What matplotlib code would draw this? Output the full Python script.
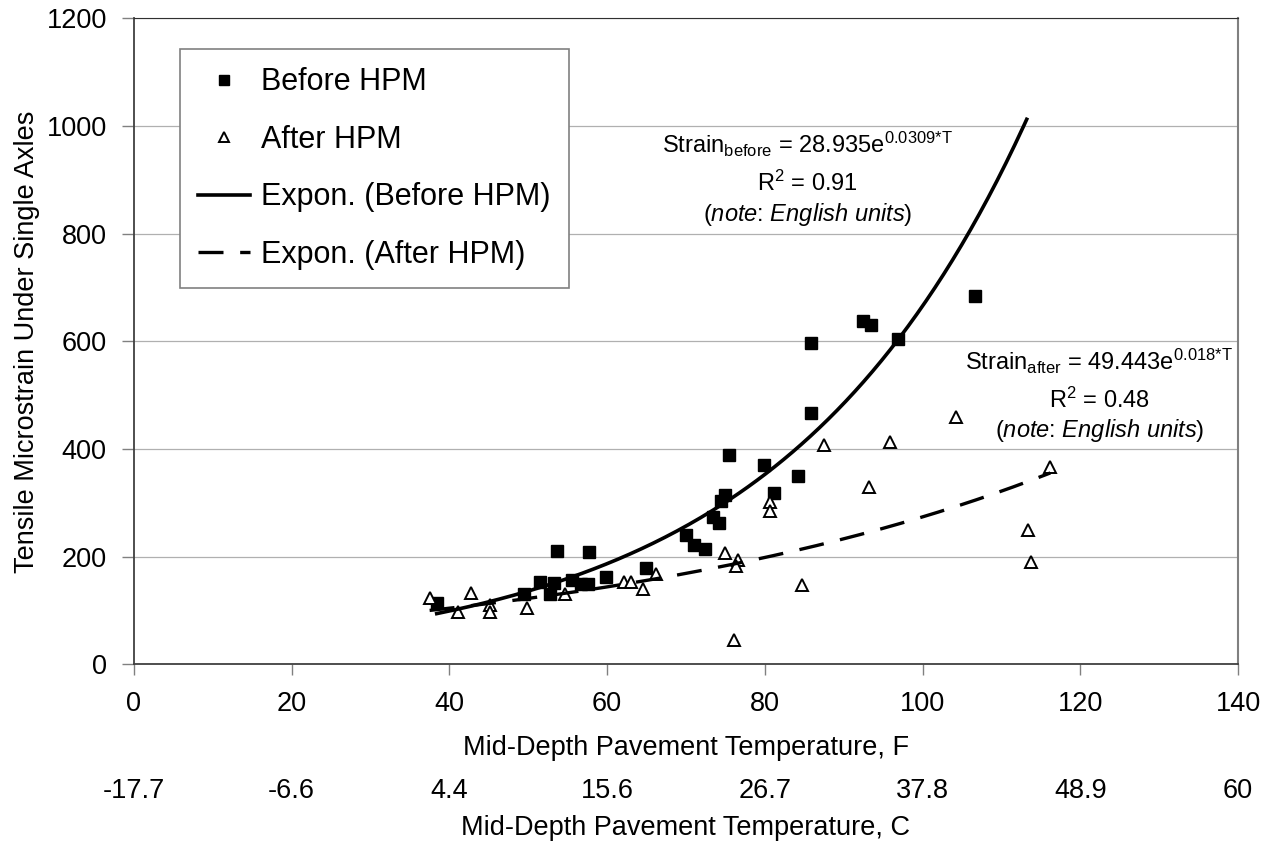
import numpy as np
import matplotlib.pyplot as plt

plt.rcParams['font.family'] = ['Liberation Sans', 'DejaVu Sans']
plt.rcParams['mathtext.fontset'] = 'custom'
plt.rcParams['mathtext.rm'] = 'Liberation Sans'
plt.rcParams['mathtext.it'] = 'Liberation Sans:italic'

# before HPM (squares)
before_T = [38.4, 49.5, 51.5, 52.8, 53.3, 53.7, 55.6, 56.7, 57.6, 57.7, 59.8, 64.9,
            70.0, 71.0, 72.4, 73.4, 74.2, 74.5, 74.9, 75.5, 79.9, 81.1, 84.2, 85.8,
            85.9, 92.5, 93.4, 96.9, 106.6]
before_strain = [114, 130, 152, 130, 151, 211, 157, 150, 150, 208, 163, 179,
                 240, 221, 215, 274, 262, 304, 315, 388, 371, 318, 350, 467,
                 597, 638, 630, 604, 685]

# after HPM (triangles)
after_T = [37.5, 41.1, 42.8, 45.1, 45.1, 49.8, 54.7, 62.2, 63.0, 64.5, 66.2, 74.9,
           76.6, 76.4, 76.1, 80.6, 80.6, 84.7, 87.5, 93.2, 95.9, 104.2, 113.3, 113.8, 116.2]
after_strain = [124, 97, 132, 110, 97, 105, 131, 153, 153, 139, 168, 206,
                193, 182, 45, 301, 284, 147, 407, 329, 413, 459, 250, 190, 367]

before_trend_end = 113.2   # excel trendline drawn a bit past last point

f_ticks = [0, 20, 40, 60, 80, 100, 120, 140]
c_labels = ['-17.7', '-6.6', '4.4', '15.6', '26.7', '37.8', '48.9', '60']


def expfit(x, y):
    # same as excel's exponential trendline: least squares on ln(y)
    k, lnA = np.polyfit(np.array(x), np.log(np.array(y)), 1)
    return np.exp(lnA), k


fig = plt.figure(figsize=(12.76, 8.47), dpi=100)
ax = fig.add_axes([0.1049, 0.2157, 0.8654, 0.7627])

A1, k1 = expfit(before_T, before_strain)
A2, k2 = expfit(after_T, after_strain)
t1 = np.linspace(min(before_T), before_trend_end, 200)
t2 = np.linspace(min(after_T), max(after_T), 200)

ax.plot(before_T, before_strain, 's', color='black', markersize=8.8, label='Before HPM', zorder=3)
ax.plot(after_T, after_strain, '^', mfc='white', mec='black', mew=1.4, markersize=8.5,
        label='After HPM', zorder=3)
ax.plot(t1, A1 * np.exp(k1 * t1), '-', color='black', lw=2.6, label='Expon. (Before HPM)', zorder=4)
ax.plot(t2, A2 * np.exp(k2 * t2), color='black', lw=2.4, linestyle=(0, (7.5, 5)),
        label='Expon. (After HPM)', zorder=4)

ax.set_xlim(0, 140)
ax.set_ylim(0, 1200)
ax.set_xticks(f_ticks)
ax.set_yticks(range(0, 1201, 200))
ax.yaxis.grid(True, color='#b0b0b0', lw=0.9)
ax.set_axisbelow(True)
for s in ['left', 'bottom']:
    ax.spines[s].set_color('#404040')
    ax.spines[s].set_linewidth(1.3)
ax.spines['top'].set_color('#303030')
ax.spines['right'].set_color('#808080')
ax.spines['right'].set_linewidth(1.5)
ax.tick_params(axis='x', direction='out', length=8, width=1, color='#808080', labelsize=19.5, pad=11)
ax.tick_params(axis='y', direction='out', length=9, width=1, color='#808080', labelsize=19.5, pad=10.5)

# celsius scale underneath
sec = ax.secondary_xaxis(-0.176)
sec.set_xticks(f_ticks, labels=c_labels)
sec.spines['bottom'].set_visible(False)
sec.tick_params(length=0, labelsize=19.5, pad=0)

fig.text(0.5376, 0.1322, 'Mid-Depth Pavement Temperature, F', ha='center', va='top', fontsize=19.5)
fig.text(0.5376, 0.0378, 'Mid-Depth Pavement Temperature, C', ha='center', va='top', fontsize=19.5)
fig.text(0.021, 0.597, 'Tensile Microstrain Under Single Axles', ha='center', va='center',
         rotation=90, fontsize=19.5)

# trendline equations
note = r'($\mathit{note}$: $\mathit{English\ units}$)'
ax.text(85.4, 950, r'Strain$_{\mathrm{before}}$ = 28.935e$^{\mathrm{0.0309{*}T}}$', ha='center',
        va='baseline', fontsize=17)
ax.text(85.4, 879, r'R$^{\mathrm{2}}$ = 0.91', ha='center', va='baseline', fontsize=17)
ax.text(85.4, 824, note, ha='center', va='baseline', fontsize=17)
ax.text(122.4, 547, r'Strain$_{\mathrm{after}}$ = 49.443e$^{\mathrm{0.018{*}T}}$', ha='center',
        va='baseline', fontsize=17)
ax.text(122.4, 476, r'R$^{\mathrm{2}}$ = 0.48', ha='center', va='baseline', fontsize=17)
ax.text(122.4, 422, note, ha='center', va='baseline', fontsize=17)

leg = ax.legend(loc='upper left', bbox_to_anchor=(0.0418, 0.9525), borderaxespad=0,
                fontsize=22, frameon=True, fancybox=False, framealpha=1, markerscale=0.8,
                handlelength=1.7, handletextpad=0.35, borderpad=0.6, labelspacing=0.9)
leg.get_frame().set_edgecolor('#808080')
leg.get_frame().set_linewidth(1.2)

fig.savefig('out.png', dpi=100)
